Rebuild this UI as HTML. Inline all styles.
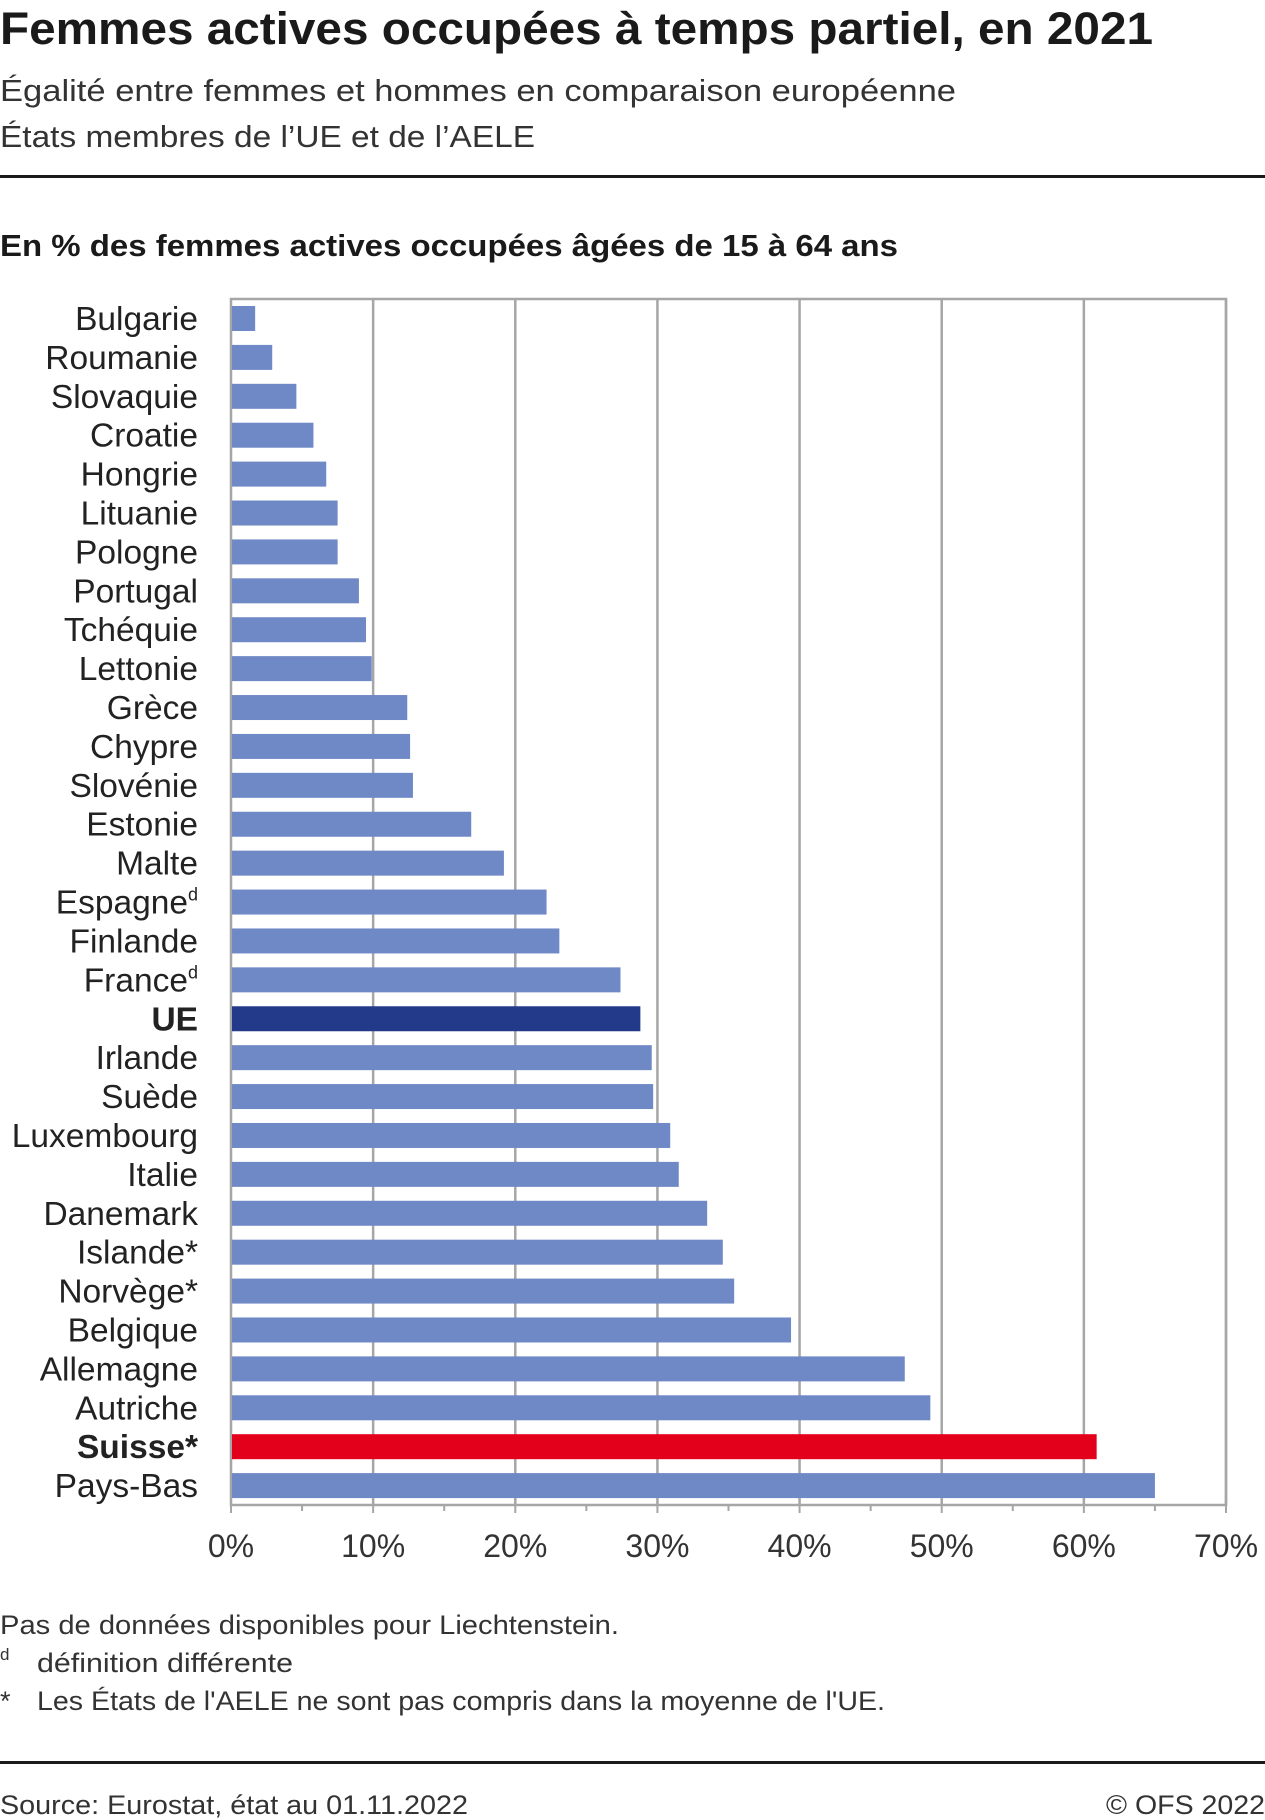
<!DOCTYPE html>
<html><head><meta charset="utf-8"><style>
html,body{margin:0;padding:0;background:#fff;}
svg{display:block;font-family:"Liberation Sans",sans-serif;}
</style></head><body>
<svg id="chart" width="1265" height="1820" viewBox="0 0 1265 1820">
<text x="0" y="44" font-size="45" font-weight="bold" fill="#1a1a1a" textLength="1153" lengthAdjust="spacingAndGlyphs">Femmes actives occupées à temps partiel, en 2021</text>
<text x="0" y="101" font-size="31" fill="#333" textLength="956" lengthAdjust="spacingAndGlyphs">Égalité entre femmes et hommes en comparaison européenne</text>
<text x="0" y="147" font-size="31" fill="#333" textLength="535" lengthAdjust="spacingAndGlyphs">États membres de l’UE et de l’AELE</text>
<rect x="0" y="175" width="1265" height="3" fill="#1a1a1a"/>
<text x="0" y="256" font-size="31" font-weight="bold" fill="#1a1a1a" textLength="898" lengthAdjust="spacingAndGlyphs">En % des femmes actives occupées âgées de 15 à 64 ans</text>
<g id="grid"></g><g id="bars"></g><g id="labels"></g><g id="axis"></g>
<text x="0" y="1634" font-size="27" fill="#333" textLength="619" lengthAdjust="spacingAndGlyphs">Pas de données disponibles pour Liechtenstein.</text>
<text x="0" y="1660" font-size="17" fill="#333">d</text>
<text x="37" y="1672" font-size="27" fill="#333" textLength="256" lengthAdjust="spacingAndGlyphs">définition différente</text>
<text x="0" y="1710" font-size="27" fill="#333">*</text>
<text x="37" y="1710" font-size="27" fill="#333" textLength="848" lengthAdjust="spacingAndGlyphs">Les États de l'AELE ne sont pas compris dans la moyenne de l'UE.</text>
<rect x="0" y="1761" width="1265" height="3" fill="#1a1a1a"/>
<text x="0" y="1814" font-size="27" fill="#333" textLength="468" lengthAdjust="spacingAndGlyphs">Source: Eurostat, état au 01.11.2022</text>
<text x="1265" y="1814" font-size="27" fill="#333" text-anchor="end" textLength="159" lengthAdjust="spacingAndGlyphs">© OFS 2022</text>
</svg>
<script>
const categories=["Bulgarie","Roumanie","Slovaquie","Croatie","Hongrie","Lituanie","Pologne","Portugal","Tchéquie","Lettonie","Grèce","Chypre","Slovénie","Estonie","Malte","Espagne","Finlande","France","UE","Irlande","Suède","Luxembourg","Italie","Danemark","Islande","Norvège","Belgique","Allemagne","Autriche","Suisse","Pays-Bas"];
const values=[1.7,2.9,4.6,5.8,6.7,7.5,7.5,9.0,9.5,9.9,12.4,12.6,12.8,16.9,19.2,22.2,23.1,27.4,28.8,29.6,29.7,30.9,31.5,33.5,34.6,35.4,39.4,47.4,49.2,60.9,65.0];
const superscripts=["","","","","","","","","","","","","","","","d","","d","","","","","","","*","*","","","","*",""];
const tickValues=[0,10,20,30,40,50,60,70];
const tickLabels=["0%","10%","20%","30%","40%","50%","60%","70%"];
const NS="http://www.w3.org/2000/svg";
const X0=231,X1=1226,XMAX=70,TOP=299,BOT=1505;
const band=(BOT-TOP)/categories.length;
const x=v=>X0+(v/XMAX)*(X1-X0);
const y=i=>TOP+i*band;
function mk(tag,attrs,parent){const e=document.createElementNS(NS,tag);for(const k in attrs)e.setAttribute(k,attrs[k]);parent.appendChild(e);return e;}
const grid=document.getElementById('grid'),bars=document.getElementById('bars'),labels=document.getElementById('labels'),axis=document.getElementById('axis');
tickValues.forEach((t,i)=>{
  if(t>0){const g=mk('line',{x1:x(t),x2:x(t),y1:TOP,y2:BOT,stroke:'#a6a6a6','stroke-width':2.5},grid);
  
  }
  const tk=mk('line',{x1:x(t),x2:x(t),y1:BOT,y2:BOT+8,stroke:'#a6a6a6','stroke-width':2},axis);
  
  
  if(i<tickValues.length-1){const m=mk('line',{x1:x(t+5),x2:x(t+5),y1:BOT,y2:BOT+6,stroke:'#a6a6a6','stroke-width':2},axis);
  
  }
  const tl=mk('text',{x:x(t),y:BOT+52,'font-size':32,fill:'#333','text-anchor':'middle'},axis);
  tl.textContent=tickLabels[i];
  
  
});
const frame=mk('rect',{x:X0,y:TOP,width:X1-X0,height:BOT-TOP,fill:'none',stroke:'#a6a6a6','stroke-width':2.5},grid);


categories.forEach((c,i)=>{
  const col=c==='UE'?'#233a8b':(c==='Suisse'?'#e2001a':'#6f88c6');
  const b=mk('rect',{x:X0+1,y:y(i)+7,width:x(values[i])-X0-1,height:25,fill:col},bars);
  
  
  const bold=(c==='UE'||c==='Suisse');
  const t=mk('text',{x:198,y:y(i)+31,'font-size':33.5,fill:'#222','text-anchor':'end','font-weight':bold?'bold':'normal'},labels);
  
  
  if(superscripts[i]==='d'){t.textContent=c;const s=mk('tspan',{'font-size':18,dy:-13},t);s.textContent='d';}
  else t.textContent=c+superscripts[i];
});
</script>
</body></html>
